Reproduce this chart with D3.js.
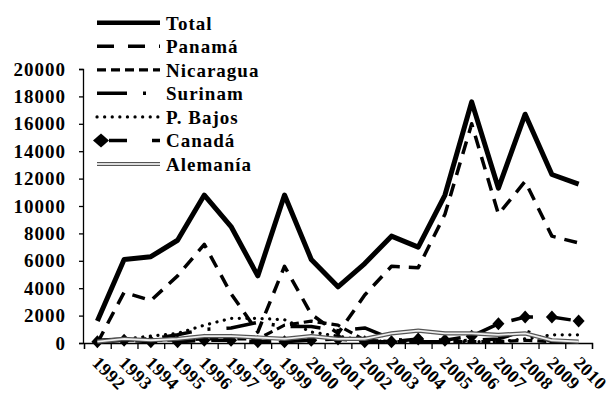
<!DOCTYPE html>
<html><head><meta charset="utf-8">
<script src="https://cdn.jsdelivr.net/npm/d3@7"></script>
<style>
body{margin:0;background:#fff;}
text{font-family:"Liberation Serif","Times New Roman",serif;font-weight:bold;font-size:19px;letter-spacing:1px;fill:#000;}
text.xl{font-size:18px;letter-spacing:0.5px;}
</style></head>
<body><svg id="c" width="611" height="397"></svg>
<script>
const years = ["1992","1993","1994","1995","1996","1997","1998","1999","2000","2001","2002","2003","2004","2005","2006","2007","2008","2009","2010"];
const total    = [1600,6100,6300,7500,10800,8500,4900,10800,6100,4100,5800,7800,7000,10800,17600,11300,16700,12300,11600];
const panama   = [0,3700,3100,4900,7200,3600,800,5600,2100,700,3500,5600,5500,9400,16000,9400,11800,7800,7300];
const nicaragua= [100,200,200,200,300,300,300,1300,1600,1300,200,100,100,100,100,100,200,100,100];
const surinam  = [200,300,300,600,1000,1100,1500,1200,1200,900,1100,300,100,100,200,300,900,100,100];
const pbajos   = [100,300,500,700,1300,1800,1800,1700,800,500,200,100,100,100,100,100,300,600,600];
const canada   = [100,200,100,100,200,200,100,100,200,300,100,100,300,200,500,1400,1900,1900,1600];
const alemania = [100,300,200,300,500,500,400,300,500,300,300,700,900,700,700,600,700,200,100];
const yTicks   = [0,2000,4000,6000,8000,10000,12000,14000,16000,18000,20000];
const names    = ["Total","Panamá","Nicaragua","Surinam","P. Bajos","Canadá","Alemanía"];

const svg = d3.select("#c");
const x = d3.scaleBand().domain(years).range([84, 592]);
const y = d3.scaleLinear().domain([0, 20000]).range([343, 69]);
const cx = d => x(d) + x.bandwidth()/2;

const styles = [
  {data: total,     w: 5,   dash: null},
  {data: panama,    w: 3.5, dash: "13,9"},
  {data: nicaragua, w: 3.2, dash: "9,5"},
  {data: surinam,   w: 3.5, dash: "30,16,3,16"},
  {data: pbajos,    w: 3.2, dash: "0.1,7.5", cap: "round"},
  {data: canada,    w: 3.5, dash: "22,16", marker: true},
  {data: alemania,  w: 4.2, dbl: true}
];

// axes
const ya = d3.axisLeft(y).tickValues(yTicks).tickSize(4).tickPadding(13).tickFormat(d3.format("d"));
const gy = svg.append("g").attr("transform","translate(83,0)").call(ya);
gy.select(".domain").attr("stroke","#000").attr("stroke-width",1.3);
gy.selectAll(".tick line").attr("stroke","#000").attr("stroke-width",1.3);
gy.selectAll("text").attr("font-size",null).attr("font-family",null);

const xb = d3.scaleLinear().domain([0, years.length]).range([84, 592]);
const xa = d3.axisBottom(xb).tickValues(d3.range(0, years.length+1)).tickSize(6).tickFormat("");
const gx = svg.append("g").attr("transform","translate(0,343)").call(xa);
gx.select(".domain").attr("stroke","#000").attr("stroke-width",1.3);
gx.selectAll(".tick line").attr("stroke","#000").attr("stroke-width",1.3);

svg.append("g").selectAll("text").data(years).join("text").attr("class","xl")
  .attr("transform", d => `translate(${cx(d)-6},364) rotate(45)`)
  .text(d => d);

const line = d3.line().x((d,i) => cx(years[i])).y(d => y(d));
const diamond = "M0,-6.5L6,0L0,6.5L-6,0Z";

styles.forEach(s => {
  if (s.dbl) {
    svg.append("path").attr("d", line(s.data)).attr("fill","none").attr("stroke","#555").attr("stroke-width",s.w);
    svg.append("path").attr("d", line(s.data)).attr("fill","none").attr("stroke","#eee").attr("stroke-width",1.8);
  } else {
    svg.append("path").attr("d", line(s.data)).attr("fill","none").attr("stroke","#000")
      .attr("stroke-width", s.w).attr("stroke-dasharray", s.dash)
      .attr("stroke-linecap", s.cap || "butt").attr("stroke-linejoin","round");
  }
  if (s.marker) {
    svg.append("g").selectAll("path").data(s.data).join("path")
      .attr("d", diamond).attr("fill","#000")
      .attr("transform",(d,i) => `translate(${cx(years[i])},${y(d)})`);
  }
});

// legend
const lg = svg.append("g");
names.forEach((n,i) => {
  const ly = 22.7 + i*23.55;
  const s = styles[i];
  if (s.dbl) {
    lg.append("line").attr("x1",97).attr("x2",160).attr("y1",ly).attr("y2",ly).attr("stroke","#555").attr("stroke-width",s.w);
    lg.append("line").attr("x1",97).attr("x2",160).attr("y1",ly).attr("y2",ly).attr("stroke","#ddd").attr("stroke-width",1.8);
  } else {
    let dash = s.dash;
    if (i===1) dash = "17,14";
    if (i===5) dash = "0,9,18,16";
    lg.append("line").attr("x1", i===5?100:97).attr("x2",160).attr("y1",ly).attr("y2",ly)
      .attr("stroke","#000").attr("stroke-width", i===0?4.5:s.w)
      .attr("stroke-dasharray", dash).attr("stroke-linecap", s.cap || "butt");
  }
  if (s.marker) lg.append("path").attr("d","M0,-7L8,0L0,7L-8,0Z").attr("transform",`translate(101,${ly})`);
  lg.append("text").attr("x",166).attr("y",ly+7).text(n);
});
</script></body></html>
